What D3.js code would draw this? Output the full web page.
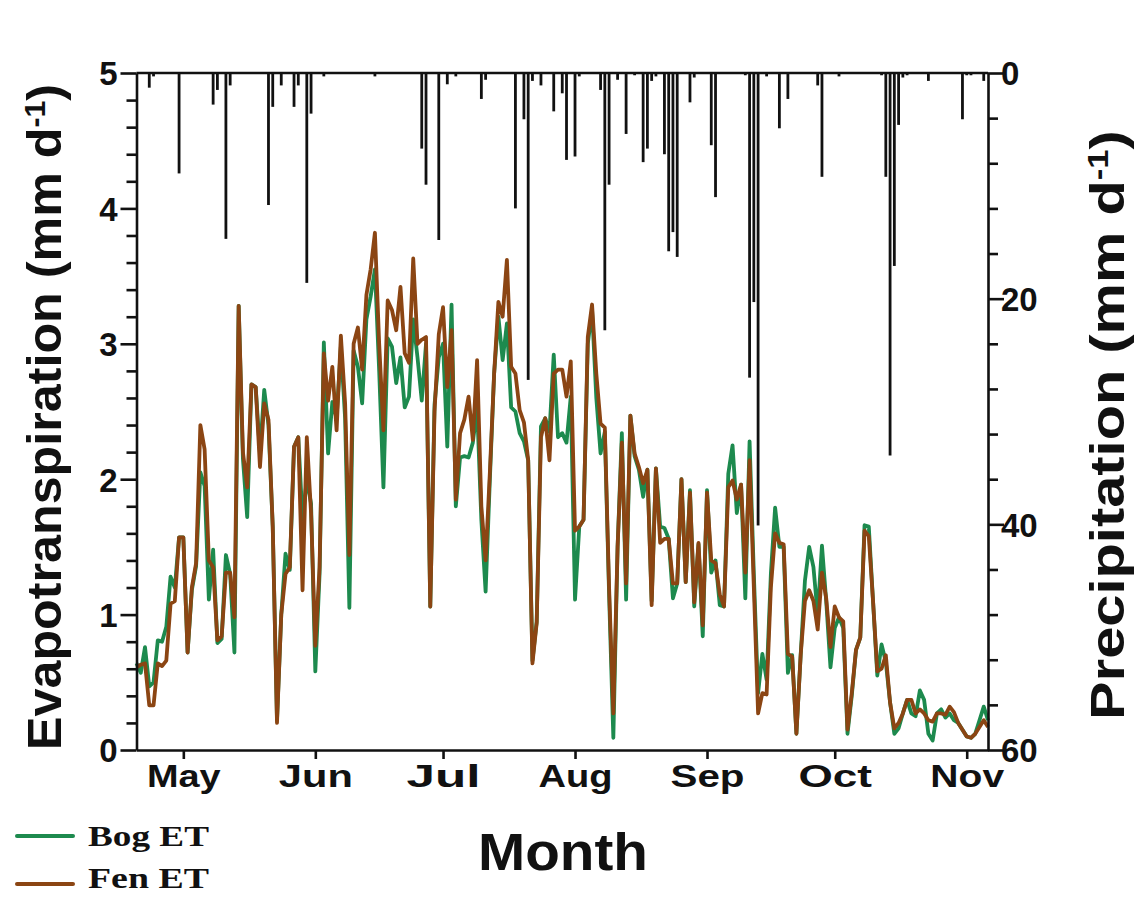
<!DOCTYPE html>
<html><head><meta charset="utf-8">
<script src="https://cdn.jsdelivr.net/npm/d3@7"></script>
<style>
html,body{margin:0;padding:0;background:#fff;}
svg{display:block;}
</style></head>
<body><svg id="chart" width="1138" height="897"></svg>
<script>
// Daily series, first value on 20 April
const startDate = "2019-04-20";
const endDate = "2019-11-06";

const bogET = [
0.64,0.57,0.76,0.47,0.50,0.81,0.80,0.91,1.28,1.20,
1.57,1.57,0.72,1.18,1.36,2.05,1.95,1.11,1.48,0.79,
0.82,1.44,1.30,0.72,3.28,2.15,1.72,2.70,2.68,2.19,
2.66,2.40,1.65,0.22,1.00,1.45,1.33,2.24,2.31,1.70,
2.00,1.82,0.58,1.30,3.01,2.19,2.57,2.45,2.98,2.45,
1.05,2.95,2.83,2.56,3.18,3.35,3.55,2.80,1.94,3.04,
2.98,2.71,2.90,2.53,2.61,3.18,2.90,2.58,3.00,1.06,
2.55,2.90,3.00,2.24,3.29,1.80,2.16,2.17,2.16,2.27,
2.53,1.70,1.17,2.00,2.78,3.20,2.88,3.15,2.53,2.50,
2.34,2.28,2.14,0.66,0.95,2.39,2.45,2.35,2.92,2.31,
2.34,2.27,2.61,1.11,1.65,1.70,3.00,3.25,2.60,2.19,
2.35,1.15,0.09,1.50,2.34,1.11,2.47,2.17,2.07,1.87,
2.07,1.10,2.08,1.65,1.64,1.56,1.12,1.23,2.00,1.24,
1.92,1.06,1.52,0.84,1.92,1.31,1.40,1.07,1.06,2.04,
2.25,1.75,1.96,1.12,2.28,1.30,0.42,0.71,0.52,1.30,
1.79,1.50,1.50,0.57,0.70,0.12,0.70,1.25,1.50,1.35,
1.00,1.51,1.10,0.61,0.90,0.98,0.90,0.12,0.40,0.74,
0.83,1.66,1.65,1.10,0.55,0.78,0.65,0.35,0.12,0.16,
0.27,0.37,0.27,0.25,0.44,0.37,0.12,0.07,0.27,0.30,
0.24,0.27,0.22,0.20,0.15,0.10,0.09,0.12,0.22,0.32,
0.22
];

const fenET = [
0.61,0.63,0.64,0.33,0.33,0.64,0.62,0.66,1.08,1.10,
1.57,1.57,0.72,1.20,1.38,2.40,2.22,1.40,1.35,0.81,
0.84,1.31,1.31,0.98,3.28,2.20,1.94,2.70,2.68,2.09,
2.56,2.44,1.65,0.20,1.00,1.30,1.35,2.24,2.31,1.18,
2.31,1.75,0.77,1.35,2.93,2.58,2.83,2.36,3.06,2.56,
1.44,3.00,3.12,2.81,3.36,3.55,3.82,3.00,2.36,3.32,
3.25,3.10,3.42,2.93,2.86,3.63,3.00,3.03,3.05,1.06,
2.50,3.07,3.27,2.68,3.10,1.85,2.34,2.44,2.61,2.29,
2.88,1.80,1.40,2.05,2.78,3.31,3.20,3.62,2.83,2.78,
2.51,2.42,2.14,0.64,0.94,2.31,2.45,2.14,2.78,2.81,
2.81,2.61,2.87,1.62,1.65,1.70,3.05,3.29,2.78,2.41,
2.38,1.20,0.27,1.50,2.27,1.23,2.47,2.19,2.09,1.97,
2.07,1.07,2.08,1.53,1.56,1.56,1.23,1.23,2.00,1.24,
1.90,1.09,1.53,0.92,1.90,1.40,1.38,1.15,1.06,1.94,
1.99,1.85,1.96,1.31,2.14,1.20,0.27,0.42,0.41,1.20,
1.60,1.53,1.52,0.71,0.69,0.12,0.70,1.10,1.18,1.10,
0.89,1.31,1.12,0.76,1.06,0.98,0.95,0.15,0.42,0.74,
0.83,1.62,1.58,1.10,0.58,0.60,0.70,0.35,0.16,0.20,
0.27,0.37,0.37,0.27,0.30,0.27,0.22,0.21,0.27,0.27,
0.26,0.32,0.28,0.20,0.15,0.10,0.09,0.12,0.17,0.22,
0.17
];

// Daily precipitation (mm), same days as the ET series
const precip = [
0,0,0,1.3,0.3,0,0,0,0,0,
8.9,0,0,0,0,0,0,0,2.8,1.5,
0,14.7,1.1,0,0,0,0,0,0,0,
0,11.7,3.0,0,1.1,0,0,3.0,1.1,0,
18.6,3.6,0,0,0.3,0,0,0,0,0,
0,0,0,0,0,0,0.3,0,0,0,
0,0,0,0,0,0,0,6.7,9.9,0,
0,14.8,0,1.0,0,0.3,0,0,0,0,
0,2.3,0.6,0,0,0,0,0,0,12.0,
0,4.1,27.2,0.7,0,1.1,0,0,3.4,0,
1.8,7.7,0,7.4,0.3,0,0,0,0,1.5,
22.8,9.9,0,0.6,0,5.4,0,0.2,0,7.9,
6.7,0.7,0.3,0,7.2,15.8,14.1,16.3,0,0,
2.6,0.4,0,0,0,6.4,11.0,0,0,0,
0,0,0,0.2,27.0,20.3,40.1,0,0.3,0,
0,4.9,0,2.3,0,0,0,0,0,0,
1.1,9.2,0,0,0,0.3,0,0,0,0,
0,0,0,0,0,0.2,9.2,33.9,17.1,4.6,
0.4,0.2,0,0,0,0,0.7,0,0,0,
0,0,0,0,4.1,0.2,0.2,0,0,0.7,
0
];

const monthTicks = ["2019-05-01","2019-06-01","2019-07-01","2019-08-01","2019-09-01","2019-10-01","2019-11-01"];
const etMajorTicks = [0,1,2,3,4,5];
const precipMajorTicks = [0,20,40,60];
const seriesNames = ["Bog ET","Fen ET"];
const seriesColors = ["#1d8a4e","#8b4513"];

const parse = d3.utcParse("%Y-%m-%d");
const day0 = parse(startDate);
const dayAt = i => d3.utcDay.offset(day0, i);

const svg = d3.select("#chart");
const L = 136.5, R = 988, T = 73, B = 750;
const ink = "#111";
const axisW = 2.6;

const x = d3.scaleUtc().domain([day0, parse(endDate)]).range([L, R]);
const y = d3.scaleLinear().domain([0, 5]).range([B, T]);
const yP = d3.scaleLinear().domain([0, 60]).range([T, B]);

function fit(sel, target) {
  const w = sel.node().getBBox().width;
  const sx = target / w;
  const tx = +sel.attr("x") || 0;
  sel.attr("transform", `translate(${tx * (1 - sx)},0) scale(${sx},1)`);
}

// precipitation bars hanging from the top
svg.append("g").selectAll("rect")
  .data(precip.map((v, i) => ({date: dayAt(i), v})).filter(d => d.v > 0))
  .join("rect")
  .attr("x", d => x(d.date) - 1.4)
  .attr("width", 2.8)
  .attr("y", yP(0))
  .attr("height", d => yP(d.v) - yP(0))
  .attr("fill", ink);

// ET lines, fen drawn over bog
const line = d3.line().x((d, i) => x(dayAt(i))).y(d => y(d));
[bogET, fenET].forEach((s, k) => {
  svg.append("path")
    .datum(s)
    .attr("d", line)
    .attr("fill", "none")
    .attr("stroke", seriesColors[k])
    .attr("stroke-width", 3.8)
    .attr("stroke-linejoin", "round");
});

// top border line (precipitation baseline)
svg.append("line").attr("x1", L).attr("x2", R).attr("y1", T).attr("y2", T)
  .attr("stroke", ink).attr("stroke-width", axisW);

function styleAxis(g) {
  g.selectAll(".domain").attr("stroke", ink).attr("stroke-width", axisW);
  g.selectAll(".tick line").attr("stroke", ink).attr("stroke-width", axisW);
  g.selectAll(".tick text").attr("fill", ink)
    .attr("font-family", "Liberation Sans, Arial, sans-serif")
    .attr("font-weight", "bold");
}

// left axis
const gL = svg.append("g").attr("transform", `translate(${L},0)`)
  .call(d3.axisLeft(y).tickValues(d3.range(0, 5.001, 0.2)).tickSize(10).tickSizeOuter(0)
    .tickFormat(d => etMajorTicks.includes(Math.round(d * 10) / 10) ? d3.format("d")(Math.round(d)) : ""));
styleAxis(gL);
gL.selectAll(".tick").filter(d => etMajorTicks.includes(Math.round(d * 10) / 10))
  .select("line").attr("x2", -16);
gL.selectAll(".tick text").attr("x", -19).attr("font-size", 33).attr("dy", "0.36em");

// right axis
const gR = svg.append("g").attr("transform", `translate(${R},0)`)
  .call(d3.axisRight(yP).tickValues(d3.range(0, 60.001, 4)).tickSize(10).tickSizeOuter(0)
    .tickFormat(d => precipMajorTicks.includes(Math.round(d)) ? d3.format("d")(d) : ""));
styleAxis(gR);
gR.selectAll(".tick").filter(d => precipMajorTicks.includes(Math.round(d)))
  .select("line").attr("x2", 16);
gR.selectAll(".tick text").attr("x", 13).attr("font-size", 33).attr("dy", "0.36em");

// bottom axis
const gB = svg.append("g").attr("transform", `translate(0,${B})`)
  .call(d3.axisBottom(x).tickValues(monthTicks.map(parse)).tickSize(9).tickSizeOuter(0)
    .tickFormat(d3.utcFormat("%b")));
styleAxis(gB);
gB.selectAll(".tick text").attr("font-size", 32).attr("y", 14).attr("dy", "0.71em")
  .each(function() { fit(d3.select(this), 74); });

// titles
function title(parts, cx, cy, rot, size, len) {
  const g = svg.append("g").attr("transform", `translate(${cx},${cy}) rotate(${rot})`);
  const t = g.append("text").attr("text-anchor", "middle")
    .attr("font-family", "Liberation Sans, Arial, sans-serif")
    .attr("font-weight", "bold").attr("font-size", size).attr("fill", ink);
  parts.forEach(p => {
    const ts = t.append("tspan").text(p.text);
    if (p.sup) ts.attr("font-size", size * 0.6).attr("baseline-shift", "super");
  });
  const w = t.node().getBBox().width;
  t.attr("transform", `scale(${len / w},1)`);
}
title([{text: "Evapotranspiration (mm d"}, {text: "-1", sup: true}, {text: ")"}], 61, 417, -90, 48, 666);
title([{text: "Precipitation (mm d"}, {text: "-1", sup: true}, {text: ")"}], 1124, 425, -90, 48, 590);
title([{text: "Month"}], 563, 870, 0, 52, 170);

// legend
const lg = svg.append("g");
seriesNames.forEach((name, k) => {
  const cy = 836 + k * 48;
  lg.append("line").attr("x1", 17).attr("x2", 73).attr("y1", cy).attr("y2", cy)
    .attr("stroke", seriesColors[k]).attr("stroke-width", 4).attr("stroke-linecap", "round");
  const t = lg.append("text").attr("x", 88).attr("y", cy + 10 - k * 6)
    .attr("font-family", "Liberation Serif, Times New Roman, serif")
    .attr("font-weight", "bold").attr("font-size", 30).attr("fill", ink).text(name);
  fit(t, 121);
});
</script>
</body></html>
